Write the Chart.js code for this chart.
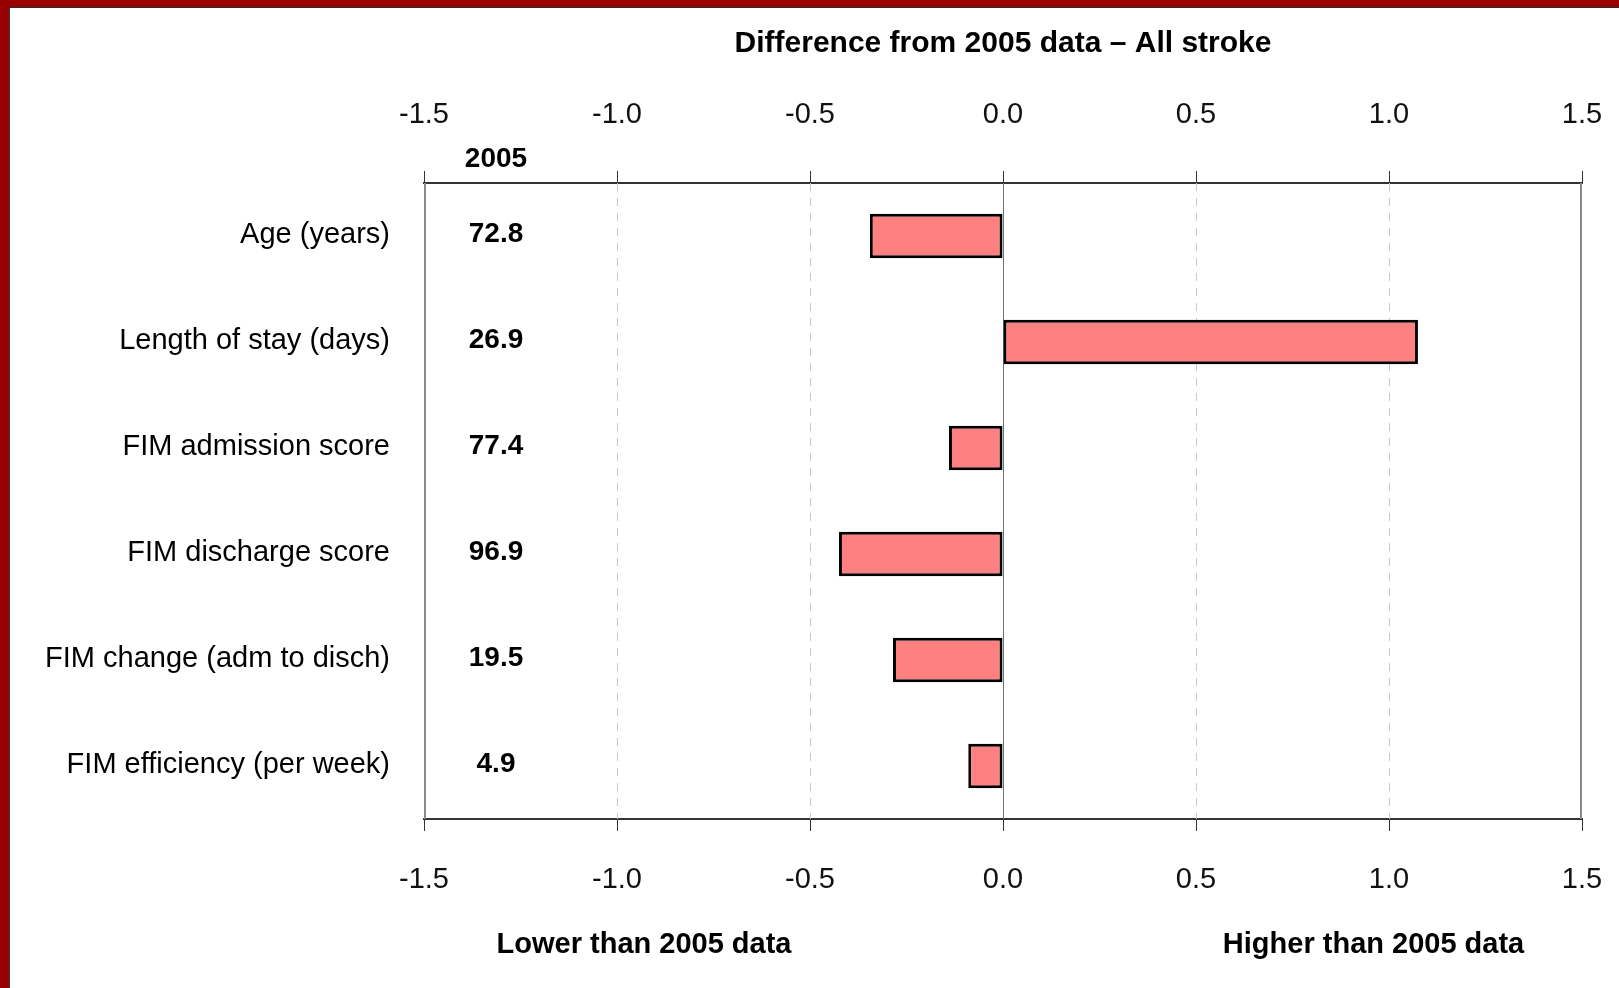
<!DOCTYPE html>
<html>
<head>
<meta charset="utf-8">
<title>Difference from 2005 data – All stroke</title>
<script src="https://cdn.jsdelivr.net/npm/chart.js@4/dist/chart.umd.min.js"></script>
<style>
  html, body { margin: 0; padding: 0; background: #fff; overflow: hidden; }
  .frame {
    width: 1610px; height: 981px;
    border-left: 9px solid #990000;
    border-top: 7px solid #990000;
  }
  .inner {
    width: 1609px; height: 980px;
    border-left: 1px solid #3a3a3a;
    border-top: 1px solid #2a2a2a;
    background: #fff;
  }
  canvas { display: block; }
</style>
</head>
<body>
<div class="frame"><div class="inner"><canvas id="chart" width="1609" height="980"></canvas></div></div>
<script>
// Outcome measures, in chart order (top to bottom)
const categories = [
  'Age (years)',
  'Length of stay (days)',
  'FIM admission score',
  'FIM discharge score',
  'FIM change (adm to disch)',
  'FIM efficiency (per week)'
];
// 2005 reference values shown in the left-hand column
const values2005 = [72.8, 26.9, 77.4, 96.9, 19.5, 4.9];
// Difference from the 2005 data for each measure
const difference = [-0.345, 1.075, -0.14, -0.425, -0.285, -0.09];
// Value axis range and tick spacing
const axisMin = -1.5;
const axisMax = 1.5;
const axisStep = 0.5;
// Texts placed under the axis
const lowerText = 'Lower than 2005 data';
const higherText = 'Higher than 2005 data';
const lowerAt = -0.93;
const higherAt = 0.96;

const FONT = "'Liberation Sans', Arial, sans-serif";

// Dashed grid, zero line, side borders and the 2005 column
const decorations = {
  id: 'decorations',
  beforeDatasetsDraw(chart) {
    const {ctx, chartArea: a, scales} = chart;
    const x = scales.x;
    ctx.save();
    for (let v = axisMin + axisStep; v < axisMax - 1e-9; v += axisStep) {
      const px = Math.round(x.getPixelForValue(v)) + 0.5;
      if (Math.abs(v) < 1e-9) {
        ctx.setLineDash([]);
        ctx.strokeStyle = '#707070';
      } else {
        ctx.setLineDash([8, 7]);
        ctx.strokeStyle = '#c8c8c8';
      }
      ctx.lineWidth = 1;
      ctx.beginPath();
      ctx.moveTo(px, a.top);
      ctx.lineTo(px, a.bottom);
      ctx.stroke();
    }
    ctx.setLineDash([]);
    ctx.strokeStyle = '#8a8a8a';
    ctx.lineWidth = 2;
    ctx.beginPath();
    ctx.moveTo(a.left + 1, a.top);
    ctx.lineTo(a.left + 1, a.bottom);
    ctx.moveTo(a.right - 1, a.top);
    ctx.lineTo(a.right - 1, a.bottom);
    ctx.stroke();
    ctx.restore();
  },
  afterDraw(chart) {
    const {ctx, chartArea: a, scales} = chart;
    const y = scales.y;
    const x = scales.x;
    const colX = a.left + 72;
    ctx.save();
    ctx.fillStyle = '#000';
    ctx.textAlign = 'center';
    ctx.textBaseline = 'middle';
    ctx.font = 'bold 28px ' + FONT;
    ctx.fillText('2005', colX, a.top - 24);
    values2005.forEach((v, i) => {
      ctx.fillText(v.toFixed(1), colX, y.getPixelForValue(i) - 2);
    });
    ctx.font = 'bold 29px ' + FONT;
    const by = 937;
    ctx.fillText(lowerText, x.getPixelForValue(lowerAt), by);
    ctx.fillText(higherText, x.getPixelForValue(higherAt), by);
    ctx.restore();
  }
};

const tickFmt = v => Number(v).toFixed(1);
const axisGrid = {
  drawOnChartArea: false,
  drawTicks: true,
  tickLength: 12,
  tickColor: '#333',
  tickWidth: 1
};
// Tick label distance from the axis is set through the line height,
// which keeps the scale's side padding small.
function axisTicks(lineHeight) {
  return {
    stepSize: axisStep,
    color: '#111',
    padding: 12,
    font: { family: FONT, size: 29, lineHeight: lineHeight },
    callback: tickFmt,
    maxRotation: 0,
    autoSkip: false
  };
}

new Chart(document.getElementById('chart'), {
  type: 'bar',
  data: {
    labels: categories,
    datasets: [{
      data: difference,
      xAxisID: 'x',
      backgroundColor: '#FF8080',
      borderColor: '#000',
      borderWidth: 3,
      borderSkipped: false,
      barPercentage: 0.42,
      categoryPercentage: 1.0
    }]
  },
  options: {
    indexAxis: 'y',
    responsive: false,
    animation: false,
    devicePixelRatio: 1,
    layout: { padding: { left: 0, right: 37, top: 0, bottom: 96 } },
    plugins: {
      legend: { display: false },
      tooltip: { enabled: false },
      title: {
        display: true,
        fullSize: false,
        text: 'Difference from 2005 data – All stroke',
        color: '#000',
        font: { family: FONT, size: 30, weight: 'bold', lineHeight: 1 },
        padding: { top: 21, bottom: 39 }
      }
    },
    scales: {
      x: {
        type: 'linear',
        position: 'bottom',
        min: axisMin,
        max: axisMax,
        ticks: axisTicks(2.54),
        grid: axisGrid,
        border: { display: true, color: '#333', width: 2 },
        afterFit(s) { s.height = 73; }
      },
      x2: {
        type: 'linear',
        axis: 'x',
        position: 'top',
        min: axisMin,
        max: axisMax,
        ticks: axisTicks(3.02),
        grid: axisGrid,
        border: { display: true, color: '#333', width: 2 },
        afterFit(s) { s.height = 85; }
      },
      y: {
        type: 'category',
        position: 'left',
        ticks: {
          color: '#000',
          font: { family: FONT, size: 29, lineHeight: 1 },
          padding: 34,
          labelOffset: -1,
          autoSkip: false
        },
        grid: { display: false, drawTicks: false },
        border: { display: false },
        afterFit(s) { s.width = 414; }
      }
    }
  },
  plugins: [decorations]
});
</script>
</body>
</html>
